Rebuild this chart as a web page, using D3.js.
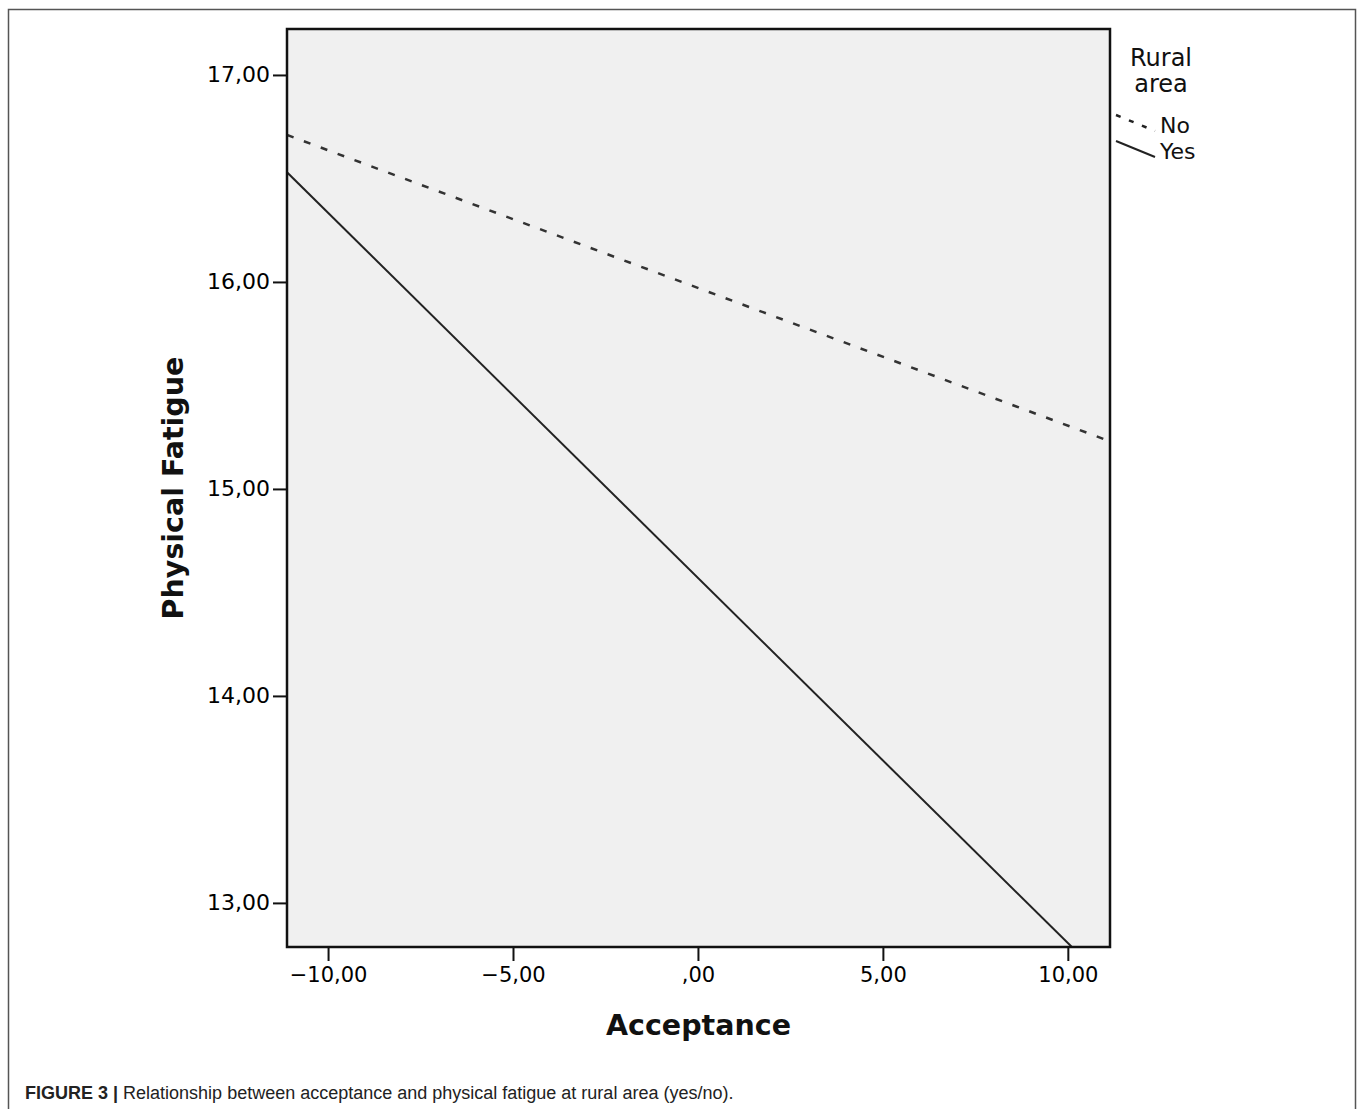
<!DOCTYPE html>
<html>
<head>
<meta charset="utf-8">
<script src="https://cdn.jsdelivr.net/npm/d3@7"></script>
<style>
  body { margin: 0; background: #fff; }
</style>
</head>
<body>
<script>
// fitted lines: [acceptance, physical fatigue] end points
const seriesNames = ["No", "Yes"];
const noLine = [[-11.11, 16.71], [11.14, 15.23]];
const yesLine = [[-11.11, 16.53], [10.11, 12.787]];
const xTicks = [-10, -5, 0, 5, 10];
const yTicks = [13, 14, 15, 16, 17];
const xDomain = [-11.11, 11.14];
const yDomain = [12.787, 17.222];

const W = 1360, H = 1109;
const plot = { left: 287, top: 29, right: 1110, bottom: 947 };

const svg = d3.select("body").append("svg").attr("width", W).attr("height", H);

// outer frame of the figure
svg.append("path")
    .attr("d", `M8.5,${H} V9.5 H1355.5 V${H}`)
    .attr("fill", "none").attr("stroke", "#555").attr("stroke-width", 1.5);

let x = d3.scaleLinear(xDomain, [plot.left, plot.right]);
let y = d3.scaleLinear(yDomain, [plot.bottom, plot.top]);

svg.append("rect")
    .attr("x", plot.left).attr("y", plot.top)
    .attr("width", plot.right - plot.left).attr("height", plot.bottom - plot.top)
    .attr("fill", "#f0f0f0");

svg.append("clipPath").attr("id", "clip").append("rect")
    .attr("x", plot.left).attr("y", plot.top)
    .attr("width", plot.right - plot.left).attr("height", plot.bottom - plot.top);

let fmt = d => d === 0 ? ",00" : d3.format(".2f")(d).replace(".", ",").replace("-", "\u2212");

function styleAxis(g, size) {
    g.select(".domain").remove();
    g.selectAll(".tick line").attr("stroke", "#111").attr("stroke-width", 2);
    g.selectAll(".tick text")
        .attr("fill", "#000")
        .style("font", size + "px 'DejaVu Sans', Verdana, sans-serif");
}

svg.append("g")
    .attr("transform", `translate(0,${plot.bottom})`)
    .call(d3.axisBottom(x).tickValues(xTicks).tickFormat(fmt).tickSize(14).tickPadding(6))
    .call(styleAxis, 21);

svg.append("g")
    .attr("transform", `translate(${plot.left},0)`)
    .call(d3.axisLeft(y).tickValues(yTicks).tickFormat(fmt).tickSize(14).tickPadding(3))
    .call(styleAxis, 22);

let line = d3.line().x(d => x(d[0])).y(d => y(d[1]));

let lines = svg.append("g").attr("clip-path", "url(#clip)");
lines.append("path")
    .datum(noLine)
    .attr("d", line)
    .attr("fill", "none").attr("stroke", "#333").attr("stroke-width", 2.5)
    .attr("stroke-dasharray", "7,11");
lines.append("path")
    .datum(yesLine)
    .attr("d", line)
    .attr("fill", "none").attr("stroke", "#222").attr("stroke-width", 2);

// plot border
svg.append("rect")
    .attr("x", plot.left).attr("y", plot.top)
    .attr("width", plot.right - plot.left).attr("height", plot.bottom - plot.top)
    .attr("fill", "none").attr("stroke", "#111").attr("stroke-width", 2.5);

// axis titles
svg.append("text")
    .attr("x", (plot.left + plot.right) / 2).attr("y", 1035)
    .attr("text-anchor", "middle")
    .style("font", "bold 28.5px 'DejaVu Sans', Verdana, sans-serif")
    .attr("fill", "#111")
    .text("Acceptance");

svg.append("text")
    .attr("transform", `translate(183,${(plot.top + plot.bottom) / 2}) rotate(-90)`)
    .attr("text-anchor", "middle")
    .style("font", "bold 28.5px 'DejaVu Sans', Verdana, sans-serif")
    .attr("fill", "#111")
    .text("Physical Fatigue");

// legend
let legend = svg.append("g").style("font", "24px 'DejaVu Sans', Verdana, sans-serif").attr("fill", "#111");
legend.append("text").attr("x", 1161).attr("y", 66).attr("text-anchor", "middle").text("Rural");
legend.append("text").attr("x", 1161).attr("y", 92).attr("text-anchor", "middle").text("area");

let legendRows = [
    { name: seriesNames[0], dash: "5,9", width: 2.5, y: 124 },
    { name: seriesNames[1], dash: null, width: 2, y: 150 }
];
legendRows.forEach(r => {
    legend.append("line")
        .attr("x1", 1116).attr("y1", r.y - 9).attr("x2", 1155).attr("y2", r.y + 7)
        .attr("stroke", "#222").attr("stroke-width", r.width)
        .attr("stroke-dasharray", r.dash);
    legend.append("text")
        .attr("x", 1160).attr("y", r.y + 9)
        .style("font-size", "22px")
        .text(r.name);
});

// caption
let caption = svg.append("text")
    .attr("x", 25).attr("y", 1099)
    .style("font", "18px 'Liberation Sans', Arial, sans-serif")
    .attr("fill", "#222");
caption.append("tspan").style("font-weight", "bold").text("FIGURE 3 | ");
caption.append("tspan").text("Relationship between acceptance and physical fatigue at rural area (yes/no).");
</script>
</body>
</html>
